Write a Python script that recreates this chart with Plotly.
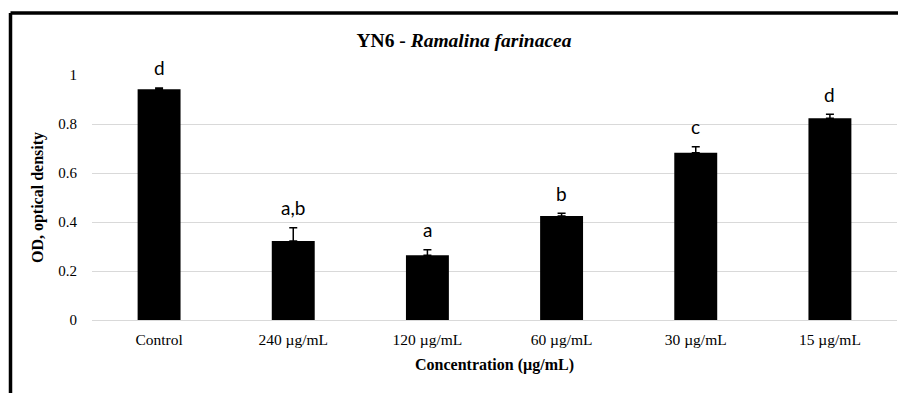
import plotly.graph_objects as go

categories = ["Control", "240 µg/mL", "120 µg/mL", "60 µg/mL", "30 µg/mL", "15 µg/mL"]
od_values = [0.942, 0.322, 0.264, 0.424, 0.683, 0.823]
od_errors = [0.005, 0.055, 0.023, 0.012, 0.024, 0.017]
letters = ["d", "a,b", "a", "b", "c", "d"]
y_ticks = [0, 0.2, 0.4, 0.6, 0.8, 1]
y_tick_text = ["0", "0.2", "0.4", "0.6", "0.8", "1"]

# page body has an 8px margin; figure is sized so it ends at the window edge
OFF = 8
W, H = 906 - OFF, 393 - OFF
L, R, T, B = 92 - OFF, 9, 75 - OFF, 73

fig = go.Figure()
fig.add_trace(go.Bar(
    x=categories, y=od_values,
    marker=dict(color="black", line=dict(width=0)),
    error_y=dict(type="data", symmetric=False, array=od_errors,
                 arrayminus=[0] * len(od_errors),
                 color="black", thickness=1.5, width=4),
    width=0.32,
    showlegend=False,
))

for c, v, e, t in zip(categories, od_values, od_errors, letters):
    fig.add_annotation(x=c, y=v + e, text=t, showarrow=False,
                       yanchor="middle", yshift=20,
                       font=dict(family="Lato, Open Sans, sans-serif", size=19, color="black"))

pw = W - L - R
ph = H - T - B

def px_x(x):
    return (x - OFF - L) / pw

def px_y(y):
    return (H - B - (y - OFF)) / ph

frame = dict(color="black", width=3.5)
fig.add_shape(type="line", xref="paper", yref="paper",
              x0=px_x(10.5), y0=px_y(13), x1=px_x(906 + 10), y1=px_y(13), line=frame)
fig.add_shape(type="line", xref="paper", yref="paper",
              x0=px_x(10.5), y0=px_y(13), x1=px_x(10.5), y1=px_y(393 + 10), line=frame)

fig.update_layout(
    width=W, height=H,
    margin=dict(l=L, r=R, t=T, b=B, autoexpand=False),
    paper_bgcolor="white", plot_bgcolor="white",
    title=dict(text="<b>YN6 - <i>Ramalina farinacea</i></b>",
               x=(464 - OFF) / W, xanchor="center",
               y=1 - (40 - OFF) / H, yanchor="middle",
               font=dict(family="Liberation Serif, Times New Roman, serif", size=19.5, color="black")),
    font=dict(family="Liberation Serif, Times New Roman, serif", color="black"),
    xaxis=dict(
        showgrid=False, showline=False, zeroline=False, automargin=False,
        tickfont=dict(size=15.5, color="black"),
        ticklabelstandoff=8,
        title=dict(text="<b>Concentration (µg/mL)</b>", font=dict(size=16, color="black"),
                   standoff=12),
    ),
    yaxis=dict(
        range=[0, 1], tickvals=y_ticks, ticktext=y_tick_text, automargin=False,
        showgrid=True, gridcolor="#d9d9d9", gridwidth=1.3,
        zeroline=True, zerolinecolor="#d9d9d9", zerolinewidth=1.3,
        showline=False,
        tickfont=dict(size=15, color="black"),
        ticklabelstandoff=14,
        title=dict(text="<b>OD, optical density</b>", font=dict(size=16, color="black"),
                   standoff=10),
    ),
)

fig.write_html("out.html")
